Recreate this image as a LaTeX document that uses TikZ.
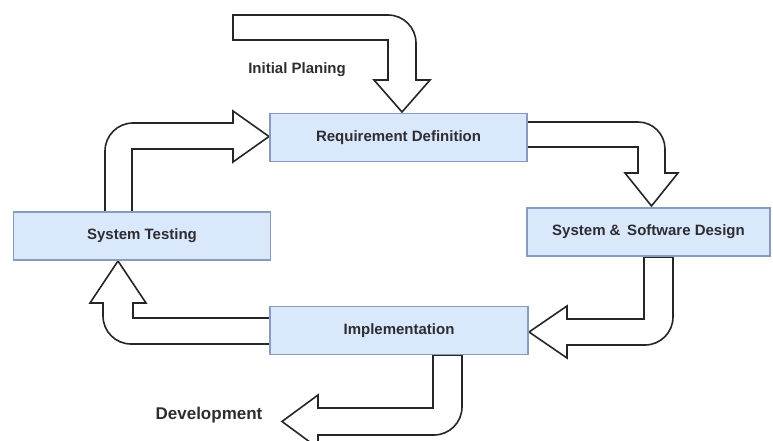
\documentclass[tikz,border=0pt]{standalone}
\usepackage{fontspec}
\setmainfont{Liberation Sans}
\definecolor{boxfill}{RGB}{218,232,252}
\definecolor{boxline}{RGB}{135,155,190}
\definecolor{txt}{RGB}{45,45,50}
\begin{document}
\begin{tikzpicture}[x=1pt,y=-1pt,
        phase/.style={draw=boxline,fill=boxfill,line width=1.2pt,minimum height=48pt,text=txt,font=\bfseries\fontsize{15}{18}\selectfont},
        blockarrow/.style={draw=black!85,fill=white,line width=1.6pt,line join=miter},
        caption/.style={text=txt,font=\bfseries\fontsize{15}{18}\selectfont}]
        \useasboundingbox (0,0) rectangle (773,441);
        \draw [blockarrow] (233,15) -- (388,15) arc [start angle=-90,end angle=0,radius=28] -- (416,80) -- (430,80) -- (402,112) -- (374,80) -- (388,80) -- (388,40) -- (233,40) -- cycle;
        \draw [blockarrow] (527,122) -- (638,122) arc [start angle=-90,end angle=0,radius=27] -- (665,173) -- (678,173) -- (651.5,206) -- (625,173) -- (638,173) -- (638,147) -- (527,147) -- cycle;
        \draw [blockarrow] (644,257) -- (673,257) -- (673,317) arc [start angle=0,end angle=90,radius=28] -- (567,345) -- (567,358) -- (529,332) -- (567,306) -- (567,319) -- (644,319) -- cycle;
        \draw [blockarrow] (270,344) -- (131,344) arc [start angle=90,end angle=180,radius=28] -- (103,303) -- (90,303) -- (118,261) -- (146,303) -- (133,303) -- (133,318) -- (270,318) -- cycle;
        \draw [blockarrow] (132,212) -- (105,212) -- (105,151) arc [start angle=180,end angle=270,radius=28] -- (233,123) -- (233,111) -- (269,136.5) -- (233,162) -- (233,149) -- (132,149) -- cycle;
        \draw [blockarrow] (433,355) -- (462,355) -- (462,407) arc [start angle=0,end angle=90,radius=28] -- (318,435) -- (318,448) -- (282,421.5) -- (318,395) -- (318,408) -- (433,408) -- cycle;
        \node [phase,minimum width=257pt] (req) at (398.5,137.5) {Requirement Definition};
        \node [phase,minimum width=257pt] (test) at (142,236) {System Testing};
        \node [phase,minimum width=243pt] (design) at (648.5,232) {System \& \,Software Design};
        \node [phase,minimum width=258pt] (impl) at (399,330.5) {Implementation};
        \node [caption] (plan) at (297,70) {Initial Planing};
        \node [caption,font=\bfseries\fontsize{17}{20}\selectfont] (dev) at (209,415) {Development};
\end{tikzpicture}
\end{document}
